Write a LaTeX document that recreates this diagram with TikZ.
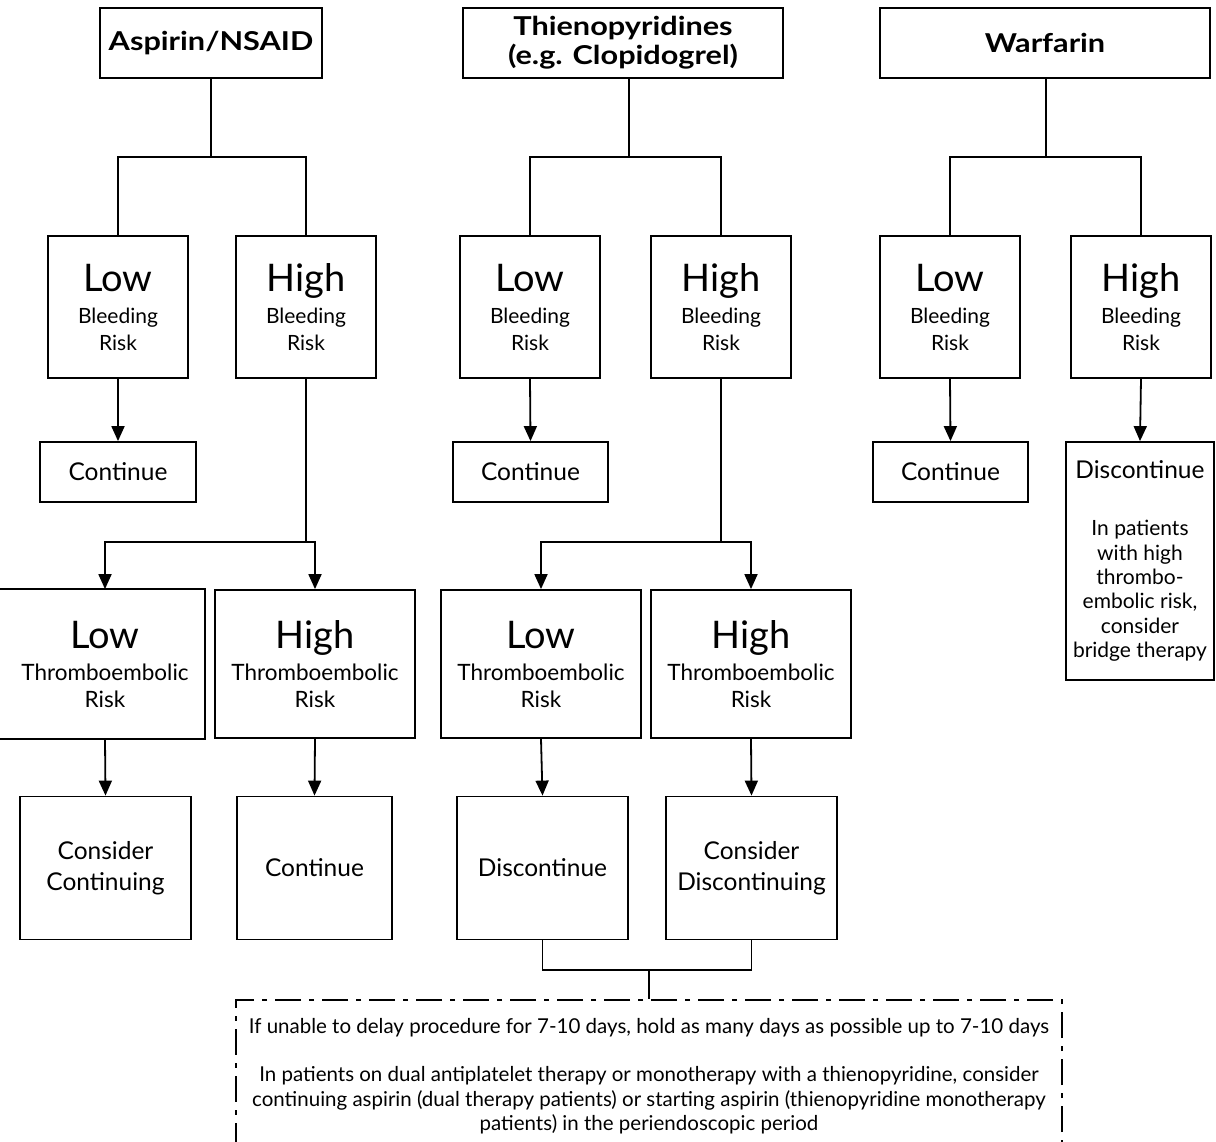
\documentclass[tikz,border=0pt]{standalone}
\usepackage{fontspec}
\setmainfont{Lato}
\newfontfamily\titlefont{Lato}[FakeStretch=1.18]
\usetikzlibrary{arrows.meta}
\begin{document}
\begin{tikzpicture}[x=1pt,y=-1pt,
  box/.style={draw, line width=1.8pt, inner sep=0pt, align=center},
  titlebox/.style={box, font=\titlefont\bfseries\fontsize{26}{29}\selectfont},
  riskbox/.style={box, minimum width=140pt, minimum height=142pt, font=\fontsize{21}{27}\selectfont},
  thrbox/.style={box, minimum width=200pt, minimum height=148pt, font=\fontsize{22.5}{27}\selectfont},
  actbox/.style={box, minimum width=155pt, minimum height=60pt, font=\fontsize{24.5}{29}\selectfont},
  outbox/.style={box, minimum width=171pt, minimum height=143pt, font=\fontsize{24.5}{31}\selectfont},
  line/.style={line width=1.8pt},
  arr/.style={line width=1.8pt, -{Triangle[length=15pt,width=13pt]}},
  notebox/.style={draw, line width=1.8pt, inner sep=0pt, align=center,
    dash pattern=on 26pt off 8pt on 5pt off 8pt, font=\fontsize{20.5}{24.5}\selectfont}
  ]
\useasboundingbox (0,0) rectangle (1216,1142);
\clip (0,0) rectangle (1216,1142);

% ---------- Aspirin / NSAID ----------
\node[titlebox, minimum width=222pt, minimum height=70pt] (asp) at (211,43) {Aspirin/NSAID};
\coordinate (aspj) at (211,157);
\node[riskbox] (aLB) at (118,307) {{\fontsize{38}{38}\selectfont Low}\\[5pt]Bleeding\\Risk};
\node[riskbox] (aHB) at (306,307) {{\fontsize{38}{38}\selectfont High}\\[5pt]Bleeding\\Risk};
\node[actbox, minimum width=156pt] (aC) at (118,472) {Continue};
\coordinate (aHBj) at (306,542);
\node[thrbox, draw=none, minimum width=198pt] (aLT) at (105,664) {{\fontsize{38}{38}\selectfont Low}\\[5pt]Thromboembolic\\Risk};
\draw[line] ([xshift=-10pt]aLT.north west) -- (aLT.north east) -- (aLT.south east) -- ([xshift=-10pt]aLT.south west);
\node[thrbox] (aHT) at (315,664) {{\fontsize{38}{38}\selectfont High}\\[5pt]Thromboembolic\\Risk};
\node[outbox] (aCC) at (105.5,868) {Consider\\Continuing};
\node[outbox, minimum width=155pt] (aCo) at (314.5,868) {Continue};

\draw[line] (asp.south) -- (aspj);
\draw[line] (aspj) -| (aLB.north);
\draw[line] (aspj) -| (aHB.north);
\draw[arr] (aLB.south) -- (aC.north);
\draw[line] (aHB.south) -- (aHBj);
\draw[arr] (aHBj) -| (aLT.north);
\draw[arr] (aHBj) -| (aHT.north);
\draw[arr] (aLT.south) -- (aCC.north);
\draw[arr] (aHT.south) -- (aCo.north);

% ---------- Thienopyridines ----------
\node[titlebox, minimum width=320pt, minimum height=70pt] (thi) at (623,43) {Thienopyridines\\(e.g. Clopidogrel)};
\coordinate (thij) at (629,157);
\node[riskbox] (tLB) at (530,307) {{\fontsize{38}{38}\selectfont Low}\\[5pt]Bleeding\\Risk};
\node[riskbox] (tHB) at (721,307) {{\fontsize{38}{38}\selectfont High}\\[5pt]Bleeding\\Risk};
\node[actbox] (tC) at (530.5,472) {Continue};
\coordinate (tHBj) at (721,542);
\node[thrbox] (tLT) at (541,664) {{\fontsize{38}{38}\selectfont Low}\\[5pt]Thromboembolic\\Risk};
\node[thrbox] (tHT) at (751,664) {{\fontsize{38}{38}\selectfont High}\\[5pt]Thromboembolic\\Risk};
\node[outbox] (tD) at (542.5,868) {Discontinue};
\node[outbox] (tCD) at (751.5,868) {Consider\\Discontinuing};
\coordinate (tbj) at (649,970);

\draw[line] (thi.south -| thij) -- (thij);
\draw[line] (thij) -| (tLB.north);
\draw[line] (thij) -| (tHB.north);
\draw[arr] (tLB.south) -- (tC.north);
\draw[line] (tHB.south) -- (tHBj);
\draw[arr] (tHBj) -| (tLT.north);
\draw[arr] (tHBj) -| (tHT.north);
\draw[arr] (tLT.south) -- (tD.north);
\draw[arr] (tHT.south) -- (tCD.north);

% ---------- Warfarin ----------
\node[titlebox, minimum width=330pt, minimum height=70pt] (war) at (1045,43) {Warfarin};
\coordinate (warj) at (1046,157);
\node[riskbox] (wLB) at (950,307) {{\fontsize{38}{38}\selectfont Low}\\[5pt]Bleeding\\Risk};
\node[riskbox] (wHB) at (1141,307) {{\fontsize{38}{38}\selectfont High}\\[5pt]Bleeding\\Risk};
\node[actbox] (wC) at (950.5,472) {Continue};
\node[box, minimum width=148pt, minimum height=238pt, font=\fontsize{21}{24.4}\selectfont] (wD) at (1140,561)
  {{\fontsize{24.5}{24.4}\selectfont Discontinue}\\[33pt]In patients\\with high\\thrombo-\\embolic risk,\\consider\\bridge therapy};

\draw[line] (war.south -| warj) -- (warj);
\draw[line] (warj) -| (wLB.north);
\draw[line] (warj) -| (wHB.north);
\draw[arr] (wLB.south) -- (wC.north);
\draw[arr] (wHB.south) -- (wD.north);

% ---------- Note ----------
\node[notebox, minimum width=826pt, minimum height=152pt] (note) at (649,1076)
  {If unable to delay procedure for 7-10 days, hold as many days as possible up to 7-10 days\\[24pt]
   In patients on dual antiplatelet therapy or monotherapy with a thienopyridine, consider\\
   continuing aspirin (dual therapy patients) or starting aspirin (thienopyridine monotherapy\\
   patients) in the periendoscopic period};
\draw[line] (tD.south) |- (tbj) -| (tCD.south);
\draw[line] (tbj) -- (note.north);
\end{tikzpicture}
\end{document}
